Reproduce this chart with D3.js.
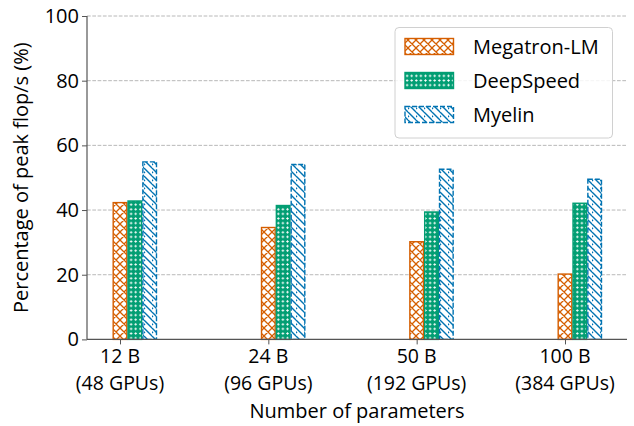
<!DOCTYPE html>
<html><head><meta charset="utf-8">
<script src="https://cdn.jsdelivr.net/npm/d3@7"></script>
<style>body{margin:0;background:#fff}svg{display:block}text{font-family:"Open Sans",Lato,sans-serif;fill:#000}</style>
</head><body><svg id="c" width="634" height="426"></svg>
<script>
const categories = ["12 B", "24 B", "50 B", "100 B"];
const gpus = ["(48 GPUs)", "(96 GPUs)", "(192 GPUs)", "(384 GPUs)"];
const seriesNames = ["Megatron-LM", "DeepSpeed", "Myelin"];
const megatron = [42.3, 34.6, 30.2, 20.2];
const deepspeed = [42.8, 41.4, 39.4, 42.1];
const myelin = [54.9, 54.1, 52.6, 49.5];
const yTicks = [0, 20, 40, 60, 80, 100];
const colors = ["#d55e00", "#029e73", "#0173b2"];

const series = [megatron, deepspeed, myelin];
const svg = d3.select("#c");
const FS = 20, XFS = 19.5;
const L = 87, R = 627, T = 16, B = 339.4;
const x = d3.scaleLinear().domain([-0.2225, 3.418]).range([L, R]);
const y = d3.scaleLinear().domain([0, 100]).range([B, T]);
const bw = 0.1;

const defs = svg.append("defs");
const p0 = defs.append("pattern").attr("id","h0").attr("patternUnits","userSpaceOnUse").attr("width",8).attr("height",8);
p0.append("rect").attr("width",8).attr("height",8).attr("fill","#fff");
p0.append("path").attr("d","M0,0L8,8M8,0L0,8M-1,7L1,9M7,-1L9,1M-1,1L1,-1M7,9L9,7").attr("stroke",colors[0]).attr("stroke-width",1.3);
const p1 = defs.append("pattern").attr("id","h1").attr("patternUnits","userSpaceOnUse").attr("width",4.6).attr("height",4.6);
p1.append("rect").attr("width",4.6).attr("height",4.6).attr("fill",colors[1]);
p1.append("path").attr("d","M2.3,1.1V3.5M1.1,2.3H3.5").attr("stroke","#fff").attr("stroke-width",1.1);
const p2 = defs.append("pattern").attr("id","h2").attr("patternUnits","userSpaceOnUse").attr("width",8).attr("height",8);
p2.append("rect").attr("width",8).attr("height",8).attr("fill","#fff");
p2.append("path").attr("d","M0,0L8,8M-4,4L0,8M4,-4L12,4M-1,3L1,5").attr("stroke",colors[2]).attr("stroke-width",1.4);

svg.append("g").selectAll("line").data(yTicks.filter(d=>d>0)).join("line")
  .attr("x1",L).attr("x2",R).attr("y1",d=>y(d)).attr("y2",d=>y(d))
  .attr("stroke","#b0b0b0").attr("stroke-width",0.9).attr("stroke-dasharray","3.7,1.6");

series.forEach((vals,k)=>{
  const g = svg.append("g");
  g.selectAll("rect").data(vals).join("rect")
    .attr("x",(d,i)=>x(i + k*bw - bw/2)+0.6)
    .attr("width",x(bw)-x(0)-1.2)
    .attr("y",d=>y(d))
    .attr("height",d=>B-y(d))
    .attr("fill",`url(#h${k})`)
    .attr("stroke",colors[k]).attr("stroke-width",1.4)
    .attr("stroke-dasharray", k===2 ? "5,2" : null);
});

const yAxis = d3.axisLeft(y).tickValues(yTicks).tickSize(5).tickPadding(3);
const gy = svg.append("g").attr("transform",`translate(${L},0)`).call(yAxis);
gy.select(".domain").attr("stroke","#555").attr("stroke-width",1.2).attr("d",`M0,${T}V${B}`);
gy.selectAll(".tick line").attr("stroke","#555");
gy.selectAll(".tick text").attr("font-size",FS).attr("font-family","Open Sans").attr("fill","#000");

const xAxis = d3.axisBottom(x).tickValues([0,1,2,3]).tickSize(5).tickFormat(()=>"");
const gx = svg.append("g").attr("transform",`translate(0,${B})`).call(xAxis);
gx.select(".domain").attr("stroke","#555").attr("stroke-width",1.2).attr("d",`M${L},0H${R}`);
gx.selectAll(".tick line").attr("stroke","#555");
const lab = svg.append("g");
categories.forEach((c,i)=>{
  lab.append("text").attr("x",x(i)).attr("y",362.5).attr("text-anchor","middle").attr("font-size",XFS).text(c);
  lab.append("text").attr("x",x(i)).attr("y",389.5).attr("text-anchor","middle").attr("font-size",XFS).text(gpus[i]);
});
svg.append("text").attr("x",(L+R)/2).attr("y",417.5).attr("text-anchor","middle").attr("font-size",FS).text("Number of parameters");
svg.append("text").attr("transform",`translate(28,${(T+B)/2}) rotate(-90)`).attr("text-anchor","middle").attr("font-size",FS).text("Percentage of peak flop/s (%)");

const lg = svg.append("g");
lg.append("rect").attr("x",395).attr("y",27.5).attr("width",217.5).attr("height",110.5).attr("rx",4)
  .attr("fill","#fff").attr("fill-opacity",0.85).attr("stroke","#d0d0d0").attr("stroke-width",1);
seriesNames.forEach((n,k)=>{
  const yy = 38.5 + k*34;
  lg.append("rect").attr("x",405).attr("y",yy).attr("width",48.5).attr("height",16)
    .attr("fill",`url(#h${k})`).attr("stroke",colors[k]).attr("stroke-width",1.4)
    .attr("stroke-dasharray", k===2 ? "5,2" : null);
  lg.append("text").attr("x",473).attr("y",yy+15).attr("font-size",FS).text(n);
});
</script></body></html>
